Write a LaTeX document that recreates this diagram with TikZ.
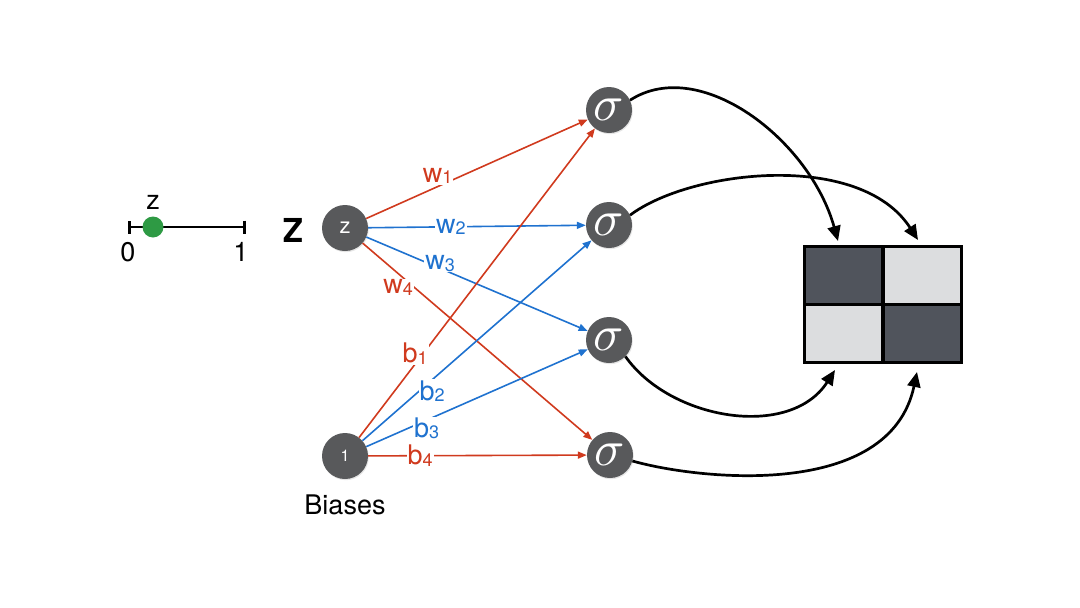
\documentclass[tikz,border=0pt]{standalone}
\usepackage[no-math]{fontspec}
\setmainfont{TeX Gyre Heros}
\usetikzlibrary{arrows.meta,shadows}
\definecolor{wred}{HTML}{D03A1E}
\definecolor{wblue}{HTML}{1F72CF}
\definecolor{ngray}{HTML}{58595B}
\definecolor{cdark}{HTML}{50545C}
\definecolor{clight}{HTML}{DCDDDF}
\definecolor{dotgreen}{HTML}{2E9A44}
\newcommand{\sbx}[1]{{\fontsize{18}{18}\selectfont\raisebox{-1.5pt}{#1}}}
\newcommand{\bigsig}{\scalebox{5}{$\sigma$}}
\begin{document}
\begin{tikzpicture}[x=1pt,y=-1pt,
  neuron/.style={circle, fill=ngray, minimum size=46pt, inner sep=0pt, text=white,
    drop shadow={opacity=0.2, shadow xshift=0.8pt, shadow yshift=-1.2pt}},
  sig/.style={neuron},
  redline/.style={wred, line width=1.6pt, -{Triangle[length=9pt,width=7pt]}},
  blueline/.style={wblue, line width=1.6pt, -{Triangle[length=9pt,width=7pt]}},
  lbl/.style={fill=white, inner sep=1pt, font=\fontsize{27}{27}\selectfont},
  outarrow/.style={black, line width=2.7pt, -{Triangle[length=15pt,width=13pt]}},
  txt/.style={font=\fontsize{27}{27}\selectfont, inner sep=0pt},
  cell/.style={draw=black, line width=3pt, minimum width=78pt, minimum height=58pt, inner sep=0pt}
]
\useasboundingbox (0,0) rectangle (1080,608);

% number line
\coordinate (n0) at (128,227);
\coordinate (n1) at (246,227);
\draw[line width=2.4pt, {Bar[width=13pt,line width=2.6pt]}-{Bar[width=13pt,line width=2.6pt]}] (n0) -- (n1);
\node[circle, fill=dotgreen, minimum size=21pt, inner sep=0pt] (dot) at (153,227) {};
\node[txt, font=\fontsize{27}{27}\selectfont] (zl) at (153,202) {z};
\node[txt] (l0) at (128,252) {0};
\node[txt] (l1) at (241,252) {1};
\node[txt, font=\fontsize{33}{33}\selectfont\bfseries] (Z) at (293,230) {Z};

% input nodes
\node[neuron, font=\fontsize{22}{22}\selectfont] (z) at (345,228) {z};
\node[neuron, font=\fontsize{16}{16}\selectfont] (one) at (345,456) {1};
\node[txt] (bias) at (345,505) {Biases};

% sigma nodes
\node[sig] (s1) at (609,110) {\bigsig};
\node[sig] (s2) at (609,225) {\bigsig};
\node[sig] (s3) at (609,340) {\bigsig};
\node[sig] (s4) at (610,455) {\bigsig};

% weights
\draw[redline] (z) -- (s1) node[lbl, text=wred, pos=0.34, xshift=-4pt, yshift=9pt] {w\sbx{1}};
\draw[blueline] (z) -- (s2) node[lbl, text=wblue, pos=0.38] {w\sbx{2}};
\draw[blueline] (z) -- (s3) node[lbl, text=wblue, pos=0.324, xshift=2pt, yshift=4pt] {w\sbx{3}};
\draw[redline] (z) -- (s4) node[lbl, text=wred, pos=0.185, xshift=-7pt, yshift=-8pt] {w\sbx{4}};

% biases
\draw[redline] (one) -- (s1) node[lbl, text=wred, pos=0.259, xshift=-5pt, yshift=4pt] {b\sbx{1}};
\draw[blueline] (one) -- (s2) node[lbl, text=wblue, pos=0.278, xshift=6pt, yshift=-6pt] {b\sbx{2}};
\draw[blueline] (one) -- (s3) node[lbl, text=wblue, pos=0.259, xshift=3pt, yshift=-7pt] {b\sbx{3}};
\draw[redline] (one) -- (s4) node[lbl, text=wred, pos=0.237] {b\sbx{4}};

% grid
\node[cell, fill=cdark] (c11) at (843,275) {};
\node[cell, fill=clight] (c12) at (922,275) {};
\node[cell, fill=clight] (c21) at (843,333) {};
\node[cell, fill=cdark] (c22) at (922,333) {};

\coordinate (t11) at (838,241);
\coordinate (t12) at (918,240);
\coordinate (t21) at (835,370);
\coordinate (t22) at (917,372);

\draw[outarrow] (s1.25) .. controls (700,55) and (810,140) .. (t11);
\draw[outarrow] (s2.25) .. controls (690,170) and (860,150) .. (t12);
\draw[outarrow] (s3.-45) .. controls (670,420) and (790,440) .. (t21);
\draw[outarrow] (s4.-15) .. controls (700,480) and (890,500) .. (t22);
\end{tikzpicture}
\end{document}
